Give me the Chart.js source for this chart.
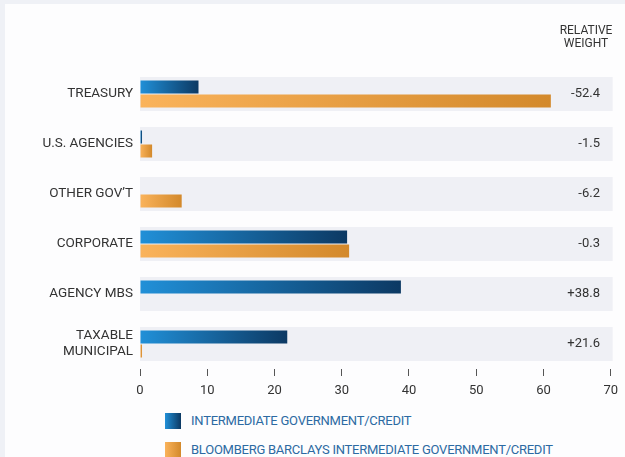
<!DOCTYPE html>
<html>
<head>
<meta charset="utf-8">
<script src="https://cdn.jsdelivr.net/npm/chart.js@4"></script>
<style>
  html,body{margin:0;padding:0;}
  body{background:#eff1f6;width:625px;height:457px;overflow:hidden;position:relative;
    font-family:Roboto,"Open Sans",sans-serif;}
  #panel{position:absolute;left:5px;top:4px;width:625px;height:460px;background:#fdfdfe;}
  #wrap{position:absolute;left:0;top:0;width:625px;height:400px;}
  .leg{position:absolute;left:165px;height:16px;}
  .leg span.box{position:absolute;left:0;top:0;width:16px;height:16px;}
  .leg span.txt{position:absolute;left:26px;top:-1px;white-space:nowrap;font-size:13px;letter-spacing:-0.25px;color:#2c6aa2;line-height:18px;}
</style>
</head>
<body>
<div id="panel"></div>
<div id="wrap"><canvas id="myBarChart"></canvas></div>
<div class="leg" style="top:413px"><span class="box" style="background:linear-gradient(to right,#2190d8,#0c3963)"></span><span class="txt">INTERMEDIATE GOVERNMENT/CREDIT</span></div>
<div class="leg" style="top:442px"><span class="box" style="background:linear-gradient(to right,#fab35b,#d3892b)"></span><span class="txt">BLOOMBERG BARCLAYS INTERMEDIATE GOVERNMENT/CREDIT</span></div>
<script>
var categories=['TREASURY','U.S. AGENCIES','OTHER GOV\u2019T','CORPORATE','AGENCY MBS',['TAXABLE','MUNICIPAL']];
var fund_weight=[8.7,0.3,0,30.8,38.8,21.9];
var index_weight=[61.1,1.8,6.2,31.1,0,0.3];
var relative_weight=['-52.4','-1.5','-6.2','-0.3','+38.8','+21.6'];
var x_ticks=[0,10,20,30,40,50,60,70];

var fontName='Roboto,"Open Sans",sans-serif';

// each bar gets its own gradient, light on the left, dark on the right
function barGradient(light,dark){
  return function(context){
    var chart=context.chart;
    var xs=chart.scales.x;
    if(!chart.chartArea||!xs||context.parsed===undefined) return light;
    var x0=xs.getPixelForValue(0);
    var x1=xs.getPixelForValue(context.parsed.x);
    if(x1-x0<1) x1=x0+1;
    var g=chart.ctx.createLinearGradient(x0,0,x1,0);
    g.addColorStop(0,light);
    g.addColorStop(1,dark);
    return g;
  };
}

var bands={
  id:'bands',
  beforeDatasetsDraw:function(chart){
    var ctx=chart.ctx, ys=chart.scales.y, a=chart.chartArea;
    ctx.save();
    ctx.fillStyle='#eff0f5';
    for(var i=0;i<categories.length;i++){
      var y=ys.getPixelForValue(i);
      ctx.fillRect(a.left,y-17,a.right-a.left+2,34);
    }
    ctx.restore();
  }
};

var relWeight={
  id:'relWeight',
  afterDraw:function(chart){
    var ctx=chart.ctx, ys=chart.scales.y;
    ctx.save();
    ctx.fillStyle='#333';
    ctx.textBaseline='middle';
    ctx.font='12px '+fontName;
    ctx.textAlign='center';
    ctx.fillText('RELATIVE',586,31);
    ctx.fillText('WEIGHT',586,44);
    ctx.font='13px '+fontName;
    ctx.textAlign='right';
    for(var i=0;i<relative_weight.length;i++){
      ctx.fillText(relative_weight[i],600,ys.getPixelForValue(i));
    }
    ctx.restore();
  }
};

var chardata={
  labels:categories,
  datasets:[
    {
      label:'INTERMEDIATE GOVERNMENT/CREDIT',
      data:fund_weight,
      backgroundColor:barGradient('#2190d8','#0c3963'),
      categoryPercentage:0.56,
      barPercentage:0.93
    },
    {
      label:'BLOOMBERG BARCLAYS INTERMEDIATE GOVERNMENT/CREDIT',
      data:index_weight,
      backgroundColor:barGradient('#fab35b','#d3892b'),
      categoryPercentage:0.56,
      barPercentage:0.93
    }
  ]
};

var ctx=document.getElementById('myBarChart');
var barGraph=new Chart(ctx,{
  type:'bar',
  data:chardata,
  plugins:[bands,relWeight],
  options:{
    indexAxis:'y',
    responsive:true,
    maintainAspectRatio:false,
    animation:false,
    layout:{padding:{left:0,top:69,right:14,bottom:0}},
    plugins:{legend:{display:false},tooltip:{enabled:false}},
    scales:{
      x:{
        min:0,max:70,
        afterBuildTicks:function(s){s.ticks=x_ticks.map(function(v){return {value:v};});},
        afterFit:function(s){s.height=31;},
        grid:{display:true,drawOnChartArea:false,drawTicks:true,tickLength:7,color:'#555'},
        border:{display:false},
        ticks:{color:'#333',padding:7,font:{family:fontName,size:13}}
      },
      y:{
        afterFit:function(s){s.width=140;},
        grid:{display:false,drawTicks:false},
        border:{display:false},
        ticks:{color:'#333',padding:7,font:{family:fontName,size:13.5}}
      }
    }
  }
});
</script>
</body>
</html>
